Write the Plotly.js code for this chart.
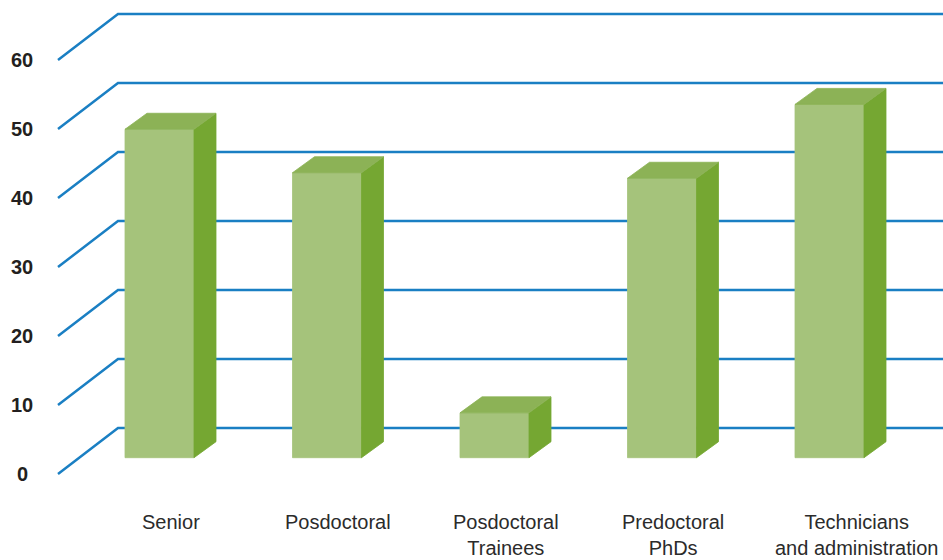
<!DOCTYPE html>
<html><head><meta charset="utf-8">
<script src="https://cdn.plot.ly/plotly-3.0.1.min.js"></script>
<style>html,body{margin:0;padding:0;background:#fff}#chart{width:943px;height:560px}</style>
</head><body><div id="chart"></div>
<script>
// ---- data ----
const categories = ['Senior', 'Posdoctoral', 'Posdoctoral<br>Trainees', 'Predoctoral<br>PhDs', 'Technicians<br>and administration'];
const values = [47.6, 41.3, 6.5, 40.5, 51.2];
const tickValues = [0, 10, 20, 30, 40, 50, 60];
const tickLabels = ['0', '10', '20', '30', '40', '50', '60'];

// ---- geometry / style ----
const W = 943, H = 560;
const PX_PER_UNIT = 6.9;
const Y0_PX = 474;
const YMIN = -(H - Y0_PX) / PX_PER_UNIT, YMAX = YMIN + H / PX_PER_UNIT;
const WALL_X0 = 58, WALL_X1 = 118, WALL_DY = 46 / PX_PER_UNIT;
const BAR_X0 = 125, BAR_STEP = 167.5, BAR_W = 69;
const BAR_BASE = (Y0_PX - 457.7) / PX_PER_UNIT;
const DEPTH_DX = 22, DEPTH_DY = 16 / PX_PER_UNIT;
const LABEL_SHIFT = [0, 0, 0, 0, 16];
const BLUE = '#1a7fc3', FRONT = '#a5c37b', SIDE = '#75a732', TOP = '#8cb256';

// gridlines (left wall diagonal + back wall horizontal)
const gx = [], gy = [];
tickValues.forEach(v => {
  gx.push(WALL_X0, WALL_X1, W, null);
  gy.push(v, v + WALL_DY, v + WALL_DY, null);
});

const fx = [], fy = [], sx = [], sy = [], tx = [], ty = [];
values.forEach((v, i) => {
  const xl = BAR_X0 + i * BAR_STEP, xr = xl + BAR_W;
  const yb = BAR_BASE, yt = BAR_BASE + v;
  fx.push(xl, xr, xr, xl, xl, null); fy.push(yb, yb, yt, yt, yb, null);
  sx.push(xr, xr + DEPTH_DX, xr + DEPTH_DX, xr, xr, null);
  sy.push(yb, yb + DEPTH_DY, yt + DEPTH_DY, yt, yb, null);
  tx.push(xl, xl + DEPTH_DX, xr + DEPTH_DX, xr, xl, null);
  ty.push(yt, yt + DEPTH_DY, yt + DEPTH_DY, yt, yt, null);
});

const face = (x, y, c) => ({x, y, mode: 'lines', fill: 'toself', fillcolor: c,
  line: {color: c, width: 0.8}, hoverinfo: 'skip'});

const traces = [
  {x: gx, y: gy, mode: 'lines', line: {color: BLUE, width: 2.5}, hoverinfo: 'skip'},
  face(fx, fy, FRONT), face(sx, sy, SIDE), face(tx, ty, TOP)
];

const annotations = [];
tickValues.forEach((v, k) => annotations.push({
  x: 22, y: v, xref: 'x', yref: 'y', text: tickLabels[k], showarrow: false,
  xanchor: 'center', yanchor: 'middle',
  font: {family: 'Liberation Sans, Arial, sans-serif', size: 20, color: '#231f20', weight: 700}
}));
categories.forEach((c, i) => annotations.push({
  x: BAR_X0 + i * BAR_STEP + (BAR_W + DEPTH_DX) / 2 + LABEL_SHIFT[i],
  y: (Y0_PX - 509) / PX_PER_UNIT, xref: 'x', yref: 'y', text: c, showarrow: false,
  xanchor: 'center', yanchor: 'top', align: 'center',
  font: {family: 'Liberation Sans, Arial, sans-serif', size: 20, color: '#2b2b2b'}
}));

const layout = {
  width: W, height: H, margin: {l: 0, r: 0, t: 0, b: 0},
  paper_bgcolor: '#fff', plot_bgcolor: '#fff', showlegend: false, hovermode: false,
  xaxis: {range: [0, W], visible: false, fixedrange: true},
  yaxis: {range: [YMIN, YMAX], visible: false, fixedrange: true},
  annotations
};
Plotly.newPlot('chart', traces, layout, {displayModeBar: false, staticPlot: true});
</script></body></html>
